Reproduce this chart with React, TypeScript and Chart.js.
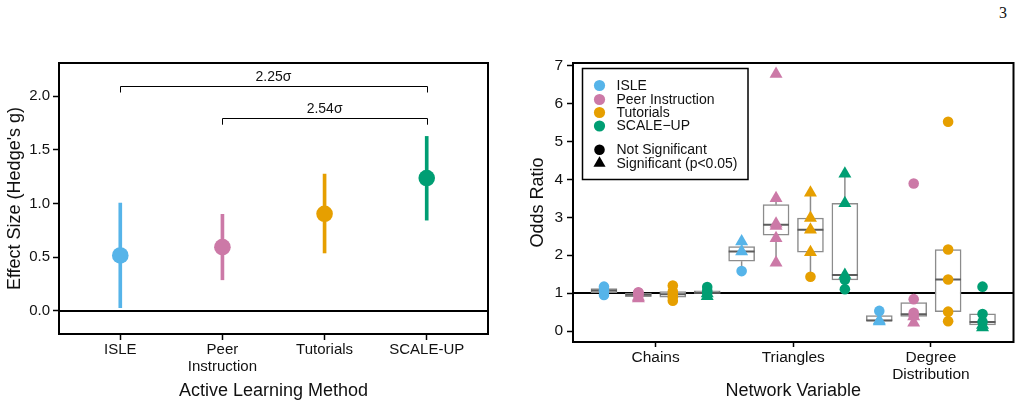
import React, { useEffect, useRef } from 'react';
import { Chart, registerables } from 'chart.js';

Chart.register(...registerables);

const FONT = "'Liberation Sans', Arial, Helvetica, sans-serif";
const TEXT = '#111';

// ---------- Left panel data ----------
const methodTickLabels = [['ISLE'], ['Peer', 'Instruction'], ['Tutorials'], ['SCALE-UP']];
const methodColors = ['#56B4E9', '#CC79A7', '#E69F00', '#009E73'];
const effectSize = [0.517, 0.594, 0.905, 1.238];
const effectLow = [0.03, 0.29, 0.54, 0.846];
const effectHigh = [1.005, 0.9, 1.275, 1.626];
const effectTicks = [0, 0.5, 1.0, 1.5, 2.0];
const bracketFrom = [1, 2];
const bracketTo = [4, 4];
const bracketY = [2.1, 1.8];
const bracketLabels = ['2.25σ', '2.54σ'];

// ---------- Right panel data ----------
const legendNames = ['ISLE', 'Peer Instruction', 'Tutorials', 'SCALE−UP'];
const shapeNames = ['Not Significant', 'Significant (p<0.05)'];
const networkTickLabels = [['Chains'], ['Triangles'], ['Degree', 'Distribution']];
const oddsTicks = [0, 1, 2, 3, 4, 5, 6, 7];
// per method: [Chains, Triangles, Degree Distribution]
const isleOdds = [[0.95, 1.07, 1.17], [1.58, 2.1, 2.36], [0.25, 0.28, 0.53]];
const isleSig = [[0, 0, 0], [0, 1, 1], [1, 1, 0]];
const peerOdds = [[0.86, 0.9, 0.93, 0.98, 1.01, 1.02], [1.8, 2.45, 2.77, 2.83, 3.5, 6.78], [0.22, 0.38, 0.4, 0.48, 0.84, 3.89]];
const peerSig = [[1, 1, 0, 0, 0, 0], [1, 1, 1, 1, 1, 1], [1, 1, 0, 0, 0, 0]];
const tutOdds = [[0.8, 0.89, 0.97, 1.04, 1.2], [1.43, 2.08, 2.67, 2.98, 3.65], [0.26, 0.51, 1.36, 2.15, 5.52]];
const tutSig = [[0, 0, 0, 0, 0], [0, 1, 1, 1, 1], [0, 0, 0, 0, 0]];
const scaleOdds = [[0.92, 0.99, 1.01, 1.06, 1.16], [1.1, 1.35, 1.48, 3.37, 4.15], [0.09, 0.16, 0.24, 0.45, 1.17]];
const scaleSig = [[1, 1, 0, 0, 0], [0, 0, 1, 1, 1], [1, 1, 0, 0, 0]];

const DODGE = [-0.375, -0.125, 0.125, 0.375];
const BOX_HALF = 0.094;

function quantile(sorted: number[], p: number) {
  const h = (sorted.length - 1) * p;
  const lo = Math.floor(h);
  const hi = Math.ceil(h);
  return sorted[lo] + (h - lo) * (sorted[hi] - sorted[lo]);
}

const leftDecor = {
  id: 'leftDecor',
  beforeDatasetsDraw(chart: any) {
    const { ctx, chartArea, scales } = chart;
    const y0 = scales.y.getPixelForValue(0);
    ctx.save();
    ctx.strokeStyle = '#000';
    ctx.lineWidth = 2;
    ctx.beginPath();
    ctx.moveTo(chartArea.left, y0);
    ctx.lineTo(chartArea.right, y0);
    ctx.stroke();
    ctx.restore();
  },
  afterDatasetsDraw(chart: any) {
    const { ctx, scales } = chart;
    ctx.save();
    ctx.strokeStyle = '#000';
    ctx.lineWidth = 1;
    ctx.fillStyle = TEXT;
    ctx.font = `14px ${FONT}`;
    ctx.textAlign = 'center';
    ctx.textBaseline = 'middle';
    bracketLabels.forEach((lab, i) => {
      const x1 = scales.x.getPixelForValue(bracketFrom[i]);
      const x2 = scales.x.getPixelForValue(bracketTo[i]);
      const y = Math.round(scales.y.getPixelForValue(bracketY[i])) + 0.5;
      const yd = scales.y.getPixelForValue(bracketY[i] - 0.065);
      ctx.beginPath();
      ctx.moveTo(Math.round(x1) + 0.5, yd);
      ctx.lineTo(Math.round(x1) + 0.5, y);
      ctx.lineTo(Math.round(x2) + 0.5, y);
      ctx.lineTo(Math.round(x2) + 0.5, yd);
      ctx.stroke();
      ctx.fillText(lab, (x1 + x2) / 2, y - 9);
    });
    ctx.restore();
  },
  afterDraw(chart: any) {
    const { ctx, chartArea } = chart;
    ctx.save();
    ctx.strokeStyle = '#000';
    ctx.lineWidth = 2;
    ctx.strokeRect(chartArea.left, chartArea.top, chartArea.right - chartArea.left, chartArea.bottom - chartArea.top);
    ctx.restore();
  },
};

const rightDecor = {
  id: 'rightDecor',
  beforeDatasetsDraw(chart: any) {
    const { ctx, chartArea, scales } = chart;
    const y1 = scales.y.getPixelForValue(1);
    ctx.save();
    ctx.strokeStyle = '#000';
    ctx.lineWidth = 2;
    ctx.beginPath();
    ctx.moveTo(chartArea.left, y1);
    ctx.lineTo(chartArea.right, y1);
    ctx.stroke();
    ctx.restore();
  },
  afterDraw(chart: any) {
    const { ctx, chartArea } = chart;
    ctx.save();
    ctx.strokeStyle = '#000';
    ctx.lineWidth = 2;
    ctx.strokeRect(chartArea.left, chartArea.top, chartArea.right - chartArea.left, chartArea.bottom - chartArea.top);
    // legend
    const bx = chartArea.left + 9.5;
    const by = chartArea.top + 5.5;
    const bw = 165.5;
    const bh = 111;
    ctx.fillStyle = '#fff';
    ctx.fillRect(bx, by, bw, bh);
    ctx.lineWidth = 1.5;
    ctx.strokeRect(bx, by, bw, bh);
    ctx.font = `14px ${FONT}`;
    ctx.textAlign = 'left';
    ctx.textBaseline = 'middle';
    const rows = [17, 31, 44, 57.5];
    legendNames.forEach((name, i) => {
      ctx.fillStyle = methodColors[i];
      ctx.beginPath();
      ctx.arc(bx + 17, by + rows[i], 5.6, 0, Math.PI * 2);
      ctx.fill();
      ctx.fillStyle = TEXT;
      ctx.fillText(name, bx + 34, by + rows[i] + 0.5);
    });
    const srows = [81.3, 94.7];
    ctx.fillStyle = '#000';
    ctx.beginPath();
    ctx.arc(bx + 17, by + srows[0], 5.3, 0, Math.PI * 2);
    ctx.fill();
    const r = 7;
    const cx = bx + 17;
    const cy = by + srows[1];
    ctx.beginPath();
    ctx.moveTo(cx, cy - r);
    ctx.lineTo(cx + r * Math.sin((2 * Math.PI) / 3), cy - r * Math.cos((2 * Math.PI) / 3));
    ctx.lineTo(cx + r * Math.sin((4 * Math.PI) / 3), cy - r * Math.cos((4 * Math.PI) / 3));
    ctx.closePath();
    ctx.fill();
    ctx.fillStyle = TEXT;
    shapeNames.forEach((n, i) => ctx.fillText(n, bx + 34, by + srows[i] + 0.5));
    ctx.restore();
  },
};

export default function App() {
  const leftRef = useRef<HTMLCanvasElement>(null);
  const rightRef = useRef<HTMLCanvasElement>(null);

  useEffect(() => {
    const tickFont = (size: number, lh = 1.2) => ({ family: FONT, size, lineHeight: lh });

    const left = new Chart(leftRef.current as HTMLCanvasElement, {
      type: 'scatter',
      data: {
        datasets: [
          {
            type: 'bar',
            data: effectLow.map((lo, i) => ({ x: i + 1, y: [lo, effectHigh[i]] })),
            backgroundColor: methodColors,
            borderWidth: 0,
            barThickness: 3,
            order: 2,
          } as any,
          {
            type: 'scatter',
            data: effectSize.map((v, i) => ({ x: i + 1, y: v })),
            backgroundColor: methodColors,
            pointRadius: 8.3,
            borderWidth: 0,
            order: 1,
          } as any,
        ],
      },
      options: {
        responsive: false,
        animation: false,
        events: [],
        layout: { padding: { left: 0, right: 22, top: 63, bottom: 0 } },
        plugins: { legend: { display: false }, tooltip: { enabled: false } },
        scales: {
          x: {
            type: 'linear',
            min: 0.4,
            max: 4.6,
            offset: false,
            afterBuildTicks: (s: any) => {
              s.ticks = methodTickLabels.map((_, i) => ({ value: i + 1 }));
            },
            afterFit: (s: any) => {
              s.height = 73;
            },
            grid: { drawOnChartArea: false, drawTicks: true, tickLength: 6, tickColor: '#000', tickWidth: 1.5, offset: false },
            border: { display: false },
            ticks: {
              autoSkip: false,
              maxRotation: 0,
              padding: 1,
              color: TEXT,
              font: tickFont(15, 1.15),
              callback: (v: any) => methodTickLabels[Math.round(v) - 1],
            },
            title: { display: true, text: 'Active Learning Method', color: TEXT, font: { family: FONT, size: 18 }, padding: { top: 0, bottom: 5.5 } },
          },
          y: {
            type: 'linear',
            min: -0.215,
            max: 2.31,
            afterBuildTicks: (s: any) => {
              s.ticks = effectTicks.map((v) => ({ value: v }));
            },
            afterFit: (s: any) => {
              s.width = 59;
            },
            grid: { drawOnChartArea: false, drawTicks: true, tickLength: 6, tickColor: '#000', tickWidth: 1.5 },
            border: { display: false },
            ticks: { padding: 3, color: TEXT, font: tickFont(15), callback: (v: any) => Number(v).toFixed(1) },
            title: { display: true, text: "Effect Size (Hedge's g)", color: TEXT, font: { family: FONT, size: 18 }, padding: { top: 4.2, bottom: 0 } },
          },
        },
      } as any,
      plugins: [leftDecor],
    });

    // ----- right panel -----
    const groups = [isleOdds, peerOdds, tutOdds, scaleOdds];
    const sigs = [isleSig, peerSig, tutSig, scaleSig];
    const boxes: any[] = [];
    const medians: any[] = [];
    const whiskers: any[] = [];
    groups.forEach((g, m) =>
      g.forEach((vals, v) => {
        const c = v + 1 + DODGE[m];
        const s = [...vals].sort((a, b) => a - b);
        const q1 = quantile(s, 0.25);
        const med = quantile(s, 0.5);
        const q3 = quantile(s, 0.75);
        const iqr = q3 - q1;
        const lo = Math.min(...s.filter((x) => x >= q1 - 1.5 * iqr));
        const hi = Math.max(...s.filter((x) => x <= q3 + 1.5 * iqr));
        boxes.push({ x: c, y: [q1, q3] });
        medians.push({ x: c - BOX_HALF, y: med }, { x: c + BOX_HALF, y: med }, { x: c, y: null });
        whiskers.push({ x: c, y: lo }, { x: c, y: q1 }, { x: c, y: null }, { x: c, y: q3 }, { x: c, y: hi }, { x: c, y: null });
      })
    );
    const pointSets = groups.map((g, m) => {
      const data: any[] = [];
      const styles: string[] = [];
      g.forEach((vals, v) =>
        vals.forEach((val, k) => {
          data.push({ x: v + 1 + DODGE[m], y: val });
          styles.push(sigs[m][v][k] ? 'triangle' : 'circle');
        })
      );
      return {
        type: 'scatter',
        data,
        pointStyle: styles,
        pointRadius: styles.map((st) => (st === 'triangle' ? 7.5 : 5.3)),
        backgroundColor: methodColors[m],
        borderWidth: 0,
        order: 0,
      } as any;
    });

    const right = new Chart(rightRef.current as HTMLCanvasElement, {
      type: 'scatter',
      data: {
        datasets: [
          {
            type: 'line',
            data: whiskers,
            borderColor: '#8c8c8c',
            borderWidth: 1.5,
            pointRadius: 0,
            spanGaps: false,
            fill: false,
            order: 3,
          } as any,
          {
            type: 'bar',
            data: boxes,
            backgroundColor: '#ffffff',
            borderColor: '#8c8c8c',
            borderWidth: 1.5,
            borderSkipped: false,
            barThickness: 26,
            order: 2,
          } as any,
          {
            type: 'line',
            data: medians,
            borderColor: '#5c5c5c',
            borderWidth: 2,
            pointRadius: 0,
            spanGaps: false,
            fill: false,
            order: 1,
          } as any,
          ...pointSets,
        ],
      },
      options: {
        responsive: false,
        animation: false,
        events: [],
        layout: { padding: { left: 0, right: 7, top: 63, bottom: 0 } },
        plugins: { legend: { display: false }, tooltip: { enabled: false } },
        scales: {
          x: {
            type: 'linear',
            min: 0.4,
            max: 3.6,
            offset: false,
            afterBuildTicks: (s: any) => {
              s.ticks = networkTickLabels.map((_, i) => ({ value: i + 1 }));
            },
            afterFit: (s: any) => {
              s.height = 65;
            },
            grid: { drawOnChartArea: false, drawTicks: true, tickLength: 5, tickColor: '#000', tickWidth: 1.5, offset: false },
            border: { display: false },
            ticks: {
              autoSkip: false,
              maxRotation: 0,
              padding: 2.5,
              color: TEXT,
              font: tickFont(15.5, 1.08),
              callback: (v: any) => networkTickLabels[Math.round(v) - 1],
            },
            title: { display: true, text: 'Network Variable', color: TEXT, font: { family: FONT, size: 18 }, padding: { top: 0, bottom: 5.5 } },
          },
          y: {
            type: 'linear',
            min: -0.29,
            max: 7.07,
            afterBuildTicks: (s: any) => {
              s.ticks = oddsTicks.map((v) => ({ value: v }));
            },
            afterFit: (s: any) => {
              s.width = 63;
            },
            grid: { drawOnChartArea: false, drawTicks: true, tickLength: 6, tickColor: '#000', tickWidth: 1.5 },
            border: { display: false },
            ticks: { padding: 4, color: TEXT, font: tickFont(15.5), callback: (v: any) => String(v) },
            title: { display: true, text: 'Odds Ratio', color: TEXT, font: { family: FONT, size: 18 }, padding: { top: 17.5, bottom: 0 } },
          },
        },
      } as any,
      plugins: [rightDecor],
    });

    return () => {
      left.destroy();
      right.destroy();
    };
  }, []);

  return (
    <div style={{ position: 'absolute', left: 0, top: 0, width: 1021, height: 407, background: '#fff', overflow: 'hidden' }}>
      <div style={{ position: 'absolute', left: 999, top: 4, fontFamily: "'Liberation Serif', 'Times New Roman', serif", fontSize: 16, color: '#111' }}>3</div>
      <div style={{ position: 'absolute', left: 0, top: 0 }}>
        <canvas ref={leftRef} width={510} height={407} style={{ display: 'block' }} />
      </div>
      <div style={{ position: 'absolute', left: 510, top: 0 }}>
        <canvas ref={rightRef} width={511} height={407} style={{ display: 'block' }} />
      </div>
    </div>
  );
}
